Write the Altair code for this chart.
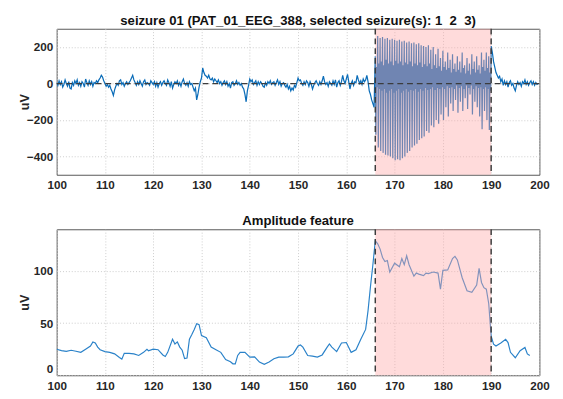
import altair as alt
import pandas as pd

# ---------------- data ----------------
X_DOMAIN = [100, 200]
X_TICKS = [100, 110, 120, 130, 140, 150, 160, 170, 180, 190, 200]
EEG_Y_DOMAIN = [-500, 300]
EEG_Y_TICKS = [-400, -200, 0, 200]
AMP_Y_DOMAIN = [0, 140]
AMP_Y_TICKS = [0, 50, 100]
SEIZURE_START = [166]
SEIZURE_END = [190]
TITLE_TOP = "seizure 01 (PAT_01_EEG_388, selected seizure(s): 1\u00a0\u00a02\u00a0\u00a03)"
TITLE_BOTTOM = "Amplitude feature"

# EEG before seizure: 100 s .. 165.75 s, every 0.25 s (one row per second)
pre_start, pre_step = 100.0, 0.25
pre_vals = [
    5, -10, 15, -5,   10, -20, -5, 20,   0, -15, 10, -25,   -30, 5, -10, 15,
    0, 20, -10, 5,    -15, 10, 0, -20,   25, 5, -10, 15,    -5, 10, -15, 5,
    0, 15, 5, 20,     30, 45, 35, 15,    0, -15, -5, -20,   -10, -30, -45, -65,
    -35, -15, 0, -10, 15, 20, -5, 5,     -15, 0, 10, -5,    5, 15, 30, 45,
    20, 5, -10, 10,   -5, 15, 0, -15,    10, 20, -5, 5,     0, -10, 15, 5,
    -5, 10, -15, 5,   -20, 0, 10, -10,   5, 15, 0, -10,     20, 5, -15, 10,
    -25, -5, 10, 0,   15, -10, 5, -15,   10, 25, 0, -10,    5, -15, 10, -5,
    0, -20, -40, -25, -90, -60, -20, 10, 30, 85, 60, 45,    40, 30, 45, 25,
    20, 30, 10, 25,   15, 5, 20, 0,      10, -10, 5, 15,    -5, 10, -15, 0,
    -25, 5, 10, -10,  0, 15, -5, 5,      -10, 0, -20, -30,  -60, -100, -40, -10,
    25, 10, 20, -5,   5, 15, -10, 10,    -5, 10, 0, -15,    -20, 5, -10, 10,
    0, 15, -5, 5,     10, -10, 5, 20,    -5, 10, -15, 0,    5, -10, -20, -5,
    -30, -15, -40, -25, -35, -10, -20, 5, 30, 15, 20, 0,    -10, 10, -5, 15,
    5, -15, 10, -5,   -30, -10, 5, 15,   0, -10, 10, -5,    15, 40, 10, -5,
    5, -15, 10, 0,    -10, 15, -5, 20,   -20, 5, 15, -10,   10, 45, 15, 0,
    25, 50, 10, -30,  0, 15, -10, 10,    5, 45, 20, 0,      15, -5, 25, 10,
    20, 45, 10, -40,  -60, -90, -110, -130,
]

# EEG during seizure: 166 s .. 189.875 s, every 0.125 s
# each row = one spike-wave cycle (peak, trough, wave top, wave bottom)
sz_start, sz_step = 166.0, 0.125
sz_cycles = [
    (150, -280, 90, -20), (260, -350, 110, -30), (250, -370, 120, -40), (255, -380, 100, -30),
    (245, -390, 130, -50), (250, -395, 110, -40), (240, -400, 120, -30), (245, -410, 100, -50),
    (240, -420, 125, -40), (235, -415, 110, -30), (240, -420, 120, -50), (230, -410, 100, -40),
    (235, -400, 115, -30), (225, -380, 105, -45), (230, -370, 120, -35), (220, -350, 95, -40),
    (225, -340, 110, -30), (215, -330, 100, -45), (220, -310, 115, -30), (210, -300, 90, -40),
    (205, -290, 105, -25), (200, -260, 95, -35), (210, -270, 110, -30), (185, -230, 80, -20),
    (200, -240, 100, -35), (160, -200, 85, -25), (190, -220, 95, -30), (140, -170, 70, -20),
    (180, -200, 90, -30), (120, -130, 75, -15), (170, -180, 85, -25), (130, -110, 60, -20),
    (160, -150, 80, -30), (110, -90, 65, -10), (150, -160, 75, -25), (120, -100, 60, -15),
    (170, -150, 85, -30), (100, -80, 55, -10), (140, -140, 70, -25), (110, -60, 50, -10),
    (160, -170, 80, -30), (120, -100, 60, -15), (150, -130, 75, -25), (100, -180, 55, -20),
    (170, -250, 90, -30), (130, -150, 70, -20), (170, -200, 85, -30), (150, -255, 60, -40),
]

# EEG after seizure: 190 s .. 199.75 s, every 0.25 s
post_start, post_step = 190.0, 0.25
post_vals = [
    205, 170, 120, 90,  60, 45, 30, 40,  10, 25, -10, 15,  -5, 10, -20, 5,
    15, -10, 0, -25,    -40, -10, 10, -5, 5, -15, 10, 0,   20, -5, 10, -10,
    5, 15, -5, 10,      -10, 5, -5, 0,
]

# Amplitude feature (time s, value uV)
amp_t = [100, 101, 102, 103, 104, 105, 106, 107, 107.5, 108, 108.5, 109, 110, 111, 112,
         113, 113.5, 114, 115, 116, 117, 118, 118.7, 119, 120, 121, 122, 122.5, 123, 124,
         124.5, 125, 125.5, 126, 126.5, 127, 127.5, 128, 128.5, 129, 129.5, 130, 131, 132,
         133, 134, 135, 136, 136.5, 137, 137.5, 138, 139, 140, 141, 142, 143, 144, 145,
         146, 147, 148, 149, 150, 150.5, 151, 152, 153, 154, 155, 156, 156.5, 157, 158,
         159, 160, 161, 162, 163, 164, 164.5, 165, 165.5, 166, 166.5, 167, 167.5, 168,
         168.5, 169, 170, 171, 171.5, 172, 172.5, 173, 174, 174.5, 175, 176, 176.5, 177,
         178, 179, 179.5, 180, 181, 182, 182.5, 183, 184, 185, 186, 187, 187.5, 188,
         188.5, 189, 189.5, 190, 190.5, 191, 192, 193, 193.5, 194, 195, 196, 197, 197.5, 198]
amp_v = [25, 23.6, 23, 24, 23, 22, 25, 28, 32, 31, 27, 24.5, 22.7, 22, 20.5,
         17, 15.5, 21, 21, 20.5, 19, 22, 25, 23.5, 25, 24.5, 19.5, 18, 22, 34.5,
         30, 32, 27, 24, 16, 16.5, 34.5, 39, 44, 49.5, 48.5, 38, 36, 27,
         24.5, 22, 15, 13, 11, 11, 19, 22, 22, 17.4, 17.7, 12.7, 10.5, 12.7, 15.8,
         17.4, 17.4, 17.7, 20.5, 28, 29, 27, 19, 18.3, 17.4, 19.5, 26.7, 30, 27, 22.7,
         31, 31.4, 22, 24.5, 34.5, 44, 62, 85, 106, 129, 126, 121, 113, 109,
         110, 99, 107.5, 104, 112, 106, 114.6, 106, 95, 98, 97, 95.6, 98, 97.5,
         99, 98, 82.6, 100.6, 101, 112, 114, 110.6, 93.5, 81, 79.5, 86.6, 102.5, 89,
         84, 82.6, 68.6, 37.6, 29.8, 28, 31, 34.5, 31.4, 22, 16.8, 23.6, 26.7, 20.5, 19]

# ---------------- tables ----------------
eeg_t, eeg_v = [], []
for i, v in enumerate(pre_vals):
    eeg_t.append(pre_start + i * pre_step)
    eeg_v.append(v)
k = 0
for cyc in sz_cycles:
    for v in cyc:
        eeg_t.append(sz_start + k * sz_step)
        eeg_v.append(v)
        k += 1
for i, v in enumerate(post_vals):
    eeg_t.append(post_start + i * post_step)
    eeg_v.append(v)

eeg_df = pd.DataFrame({"t": eeg_t, "v": eeg_v})
amp_df = pd.DataFrame({"t": amp_t, "v": amp_v})
sz_df = pd.DataFrame({"start": SEIZURE_START, "end": SEIZURE_END})
bounds_df = pd.DataFrame({"t": SEIZURE_START + SEIZURE_END})
zero_df = pd.DataFrame({"v": [0]})

# ---------------- styling ----------------
W = 496
FONT = "Liberation Sans"
DASH_COLOR = "#3c3c3c"


def x_axis(pad):
    return alt.Axis(values=X_TICKS, title=None, grid=True, gridColor="#cccccc",
                    gridDash=[1, 2], ticks=False, domain=False, labelFontWeight="bold",
                    labelFontSize=12, labelPadding=pad, labelColor="#262626", labelFlush=False,
                    minExtent=0)


def y_axis(ticks, h, flush):
    return alt.Axis(values=ticks, title="uV", grid=True, gridColor="#cccccc",
                    gridDash=[1, 2], ticks=False, domain=False, labelFontWeight="bold",
                    labelFontSize=12, labelPadding=4, labelColor="#262626",
                    titleFontWeight="bold", titleFontSize=13, titleColor="#262626",
                    titleX=-33, titleY=h / 2, titleAngle=270, titleAlign="center",
                    titleBaseline="middle", labelFlush=flush, minExtent=0)


def panel(df, ydom, yticks, title, h, line_color, line_width, label_pad, with_zero, flush):
    xs = alt.Scale(domain=X_DOMAIN, nice=False, zero=False)
    ys = alt.Scale(domain=ydom, nice=False, zero=False)
    line = alt.Chart(df).mark_line(color=line_color, strokeWidth=line_width, clip=True).encode(
        x=alt.X("t:Q", scale=xs, axis=x_axis(label_pad)),
        y=alt.Y("v:Q", scale=ys, axis=y_axis(yticks, h, flush)),
    )
    shade = alt.Chart(sz_df).mark_rect(color="#ffaaaa", opacity=0.42).encode(
        x=alt.X("start:Q", scale=xs),
        x2="end:Q",
        y=alt.datum(ydom[0]),
        y2=alt.datum(ydom[1]),
    )
    layers = [line, shade]
    if with_zero:
        layers.append(
            alt.Chart(zero_df).mark_rule(color=DASH_COLOR, strokeDash=[6, 4], strokeWidth=1.3)
            .encode(y=alt.Y("v:Q", scale=ys))
        )
    layers.append(
        alt.Chart(bounds_df).mark_rule(color=DASH_COLOR, strokeDash=[6, 4], strokeWidth=1.5)
        .encode(x=alt.X("t:Q", scale=xs))
    )
    return alt.layer(*layers).properties(
        width=W, height=h,
        title=alt.TitleParams(title, fontSize=13.5, fontWeight="bold", offset=1,
                              font=FONT, color="#111111"),
    )


top = panel(eeg_df, EEG_Y_DOMAIN, EEG_Y_TICKS, TITLE_TOP, 150, "#0a6cb8", 1.25, 5, True, False)
bottom = panel(amp_df, AMP_Y_DOMAIN, AMP_Y_TICKS, TITLE_BOTTOM, 150, "#2a82c9", 1.2, 6, False, True)

chart = (
    alt.vconcat(top, bottom, spacing=23)
    .configure(padding={"left": 10, "top": 0, "right": 5, "bottom": 0}, background="white")
    .configure_view(stroke="#555555", strokeWidth=1)
    .configure_axis(labelFont=FONT, titleFont=FONT)
    .configure_title(font=FONT)
)

chart.save("out.html", embed_options={"renderer": "svg", "actions": False})
